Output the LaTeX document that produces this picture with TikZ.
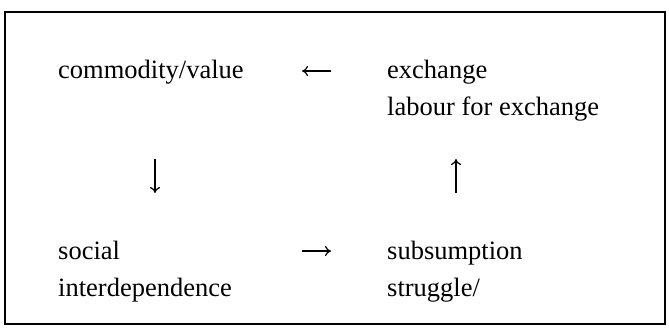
\documentclass[tikz,border=0pt]{standalone}
\usepackage{fontspec}
\setmainfont{Liberation Serif}
\usetikzlibrary{arrows.meta}
\begin{document}
\begin{tikzpicture}[x=1pt, y=-1pt,
    texto/.style={anchor=base west, inner sep=0pt, align=left,
      font=\fontsize{26.5}{37}\selectfont},
    flecha/.style={line width=1.2pt, -{To[length=6pt,width=10pt]}}]
    % Marco
    \useasboundingbox (0,0) rectangle (669,327);
    \draw[line width=1.4pt] (5,12) rectangle (665,324);

    % Textos de las cuatro esquinas (base = ultima linea)
    \node[texto] (valor) at (58,78) {commodity/value};
    \node[texto] (cambio) at (387,115) {exchange\\labour for exchange};
    \node[texto] (social) at (58,296) {social\\interdependence};
    \node[texto] (subsuncion) at (387,296) {subsumption\\struggle/};

    % Extremos de las flechas
    \coordinate (izq1) at (331,71);
    \coordinate (izq2) at (302,71);
    \coordinate (der1) at (302,251);
    \coordinate (der2) at (331,251);
    \coordinate (baja1) at (155,159);
    \coordinate (baja2) at (155,193);
    \coordinate (sube1) at (456,193);
    \coordinate (sube2) at (456,159);

    % Flechas
    \draw[flecha] (izq1) -- (izq2);
    \draw[flecha] (der1) -- (der2);
    \draw[flecha] (baja1) -- (baja2);
    \draw[flecha] (sube1) -- (sube2);
\end{tikzpicture}
\end{document}
